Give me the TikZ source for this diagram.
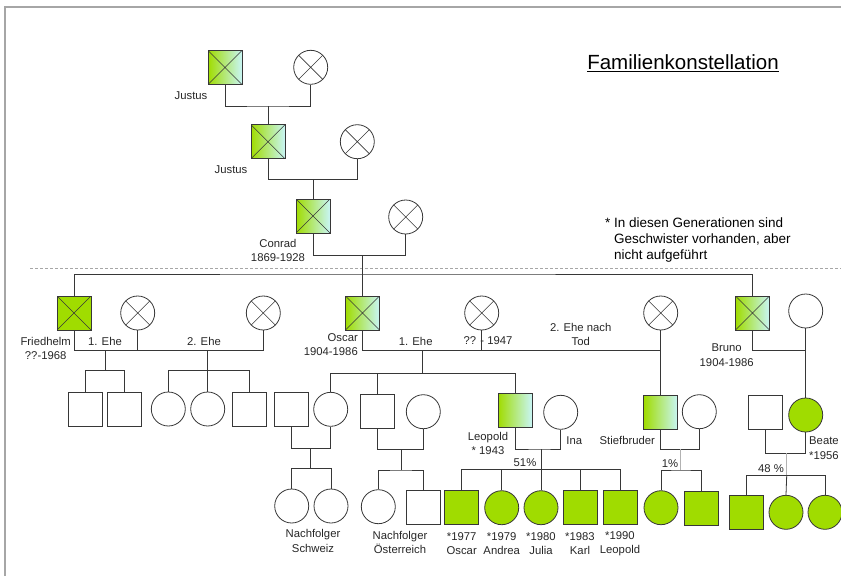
\documentclass[tikz,border=0pt]{standalone}
\usepackage{fontspec}
\setmainfont{Liberation Sans}
\definecolor{heirgreen}{RGB}{160,220,0}
\definecolor{palecyan}{RGB}{200,245,245}
\definecolor{linegray}{RGB}{55,55,55}
\tikzset{
  person/.style={draw=linegray, line width=0.8pt, inner sep=0pt, minimum size=34pt},
  man/.style={person, rectangle},
  woman/.style={person, circle},
  heir/.style={fill=heirgreen},
  partheir/.style={left color=heirgreen, right color=palecyan},
  dead/.style={path picture={
      \draw[linegray, line width=0.6pt]
        (path picture bounding box.south west) -- (path picture bounding box.north east)
        (path picture bounding box.north west) -- (path picture bounding box.south east);}},
  lbl/.style={font=\fontsize{11.3}{14.5}\selectfont, align=center, inner sep=0pt, text=black!85},
  tie/.style={draw=linegray, line width=0.8pt},
  faint/.style={draw=gray!60, line width=0.8pt},
}
\begin{document}
\begin{tikzpicture}[x=1pt, y=-1pt]
  \useasboundingbox (0,0) rectangle (841,576);
  % frame
  \draw[gray!70, line width=1.5pt] (5,576) -- (5,7) -- (841,7);

  \node[font=\fontsize{20.5}{24}\selectfont, inner sep=0pt] (title) at (683,63) {\underline{Familienkonstellation}};
  \node[font=\fontsize{13.5}{16}\selectfont, align=left, anchor=west, inner sep=0pt] (note) at (605,240)
    {* In diesen Generationen sind\\\hphantom{* }Geschwister vorhanden, aber\\\hphantom{* }nicht aufgeführt};

  % ancestors
  \node[man, partheir, dead] (justusA) at (225,67.5) {};
  \node[woman, dead] (wifeA) at (310.7,67.3) {};
  \node[lbl] (justusAtxt) at (191,96) {Justus};
  \node[man, partheir, dead] (justusB) at (268,141.7) {};
  \node[woman, dead] (wifeB) at (357.3,141.7) {};
  \node[lbl] (justusBtxt) at (231,170) {Justus};
  \node[man, partheir, dead] (conrad) at (313,216) {};
  \node[woman, dead] (wifeC) at (405.7,217) {};
  \node[lbl] (conradtxt) at (278,250.5) {Conrad\\1869-1928};

  \coordinate (mA) at (268,106);
  \coordinate (mB) at (313,179.3);
  \coordinate (mC) at (362.5,255.7);
  \draw[tie] (justusA.south) |- (mA) -| (wifeA.south);
  \draw[tie] (mA) -- (justusB.north);
  \draw[tie] (justusB.south) |- (mB) -| (wifeB.south);
  \draw[tie] (mB) -- (conrad.north);
  \draw[tie] (conrad.south) |- (mC) -| (wifeC.south);

  \draw[gray!70, dash pattern=on 3pt off 2pt] (30,268) -- (841,268);

  % sons of Conrad
  \node[man, heir, dead] (friedhelm) at (74,313) {};
  \node[woman, dead] (wifeF1) at (137.7,313) {};
  \node[woman, dead] (wifeF2) at (263.3,313) {};
  \node[man, partheir, dead] (oscar) at (362.5,313) {};
  \node[woman, dead] (wifeO1) at (481.7,313) {};
  \node[woman, dead] (wifeO2) at (660.7,313) {};
  \node[man, partheir, dead] (bruno) at (752.5,313) {};
  \node[woman] (wifeBr) at (805.7,311) {};

  \node[lbl] (friedhelmtxt) at (45.7,348.5) {Friedhelm\\??-1968};
  \node[lbl, align=right, anchor=east] (oscartxt) at (358,344.7) {Oscar\\1904-1986};
  \node[lbl] (brunotxt) at (726.7,355) {Bruno\\1904-1986};
  \node[lbl] (eheF1) at (105,341) {1. Ehe};
  \node[lbl] (eheF2) at (204,341) {2. Ehe};
  \node[lbl] (eheO1) at (415.7,341) {1. Ehe};
  \node[lbl] (wifeO1txt) at (488,341) {?? - 1947};
  \node[lbl] (eheO2) at (580.7,334.7) {2. Ehe nach\\Tod};

  \coordinate (sibs) at (362.5,274);
  \draw[tie] (mC) -- (oscar.north);
  \draw[tie] (friedhelm.north) |- (sibs) -| (bruno.north);

  % Friedhelm
  \coordinate (fe1) at (105,350.7);
  \coordinate (fe2) at (207.7,350.7);
  \coordinate (fk1) at (105,370.7);
  \coordinate (fk2) at (207.7,370.7);
  \draw[tie] (friedhelm.south) |- (fe1) -- (fe2) -| (wifeF2.south);
  \draw[tie] (wifeF1.south) -- (wifeF1.south |- fe1);
  \node[man] (fA) at (85,409) {};
  \node[man] (fB) at (124.5,409) {};
  \node[woman] (fC) at (168.3,409) {};
  \node[woman] (fD) at (207.7,409) {};
  \node[man] (fE) at (249,409) {};
  \draw[tie] (fe1) -- (fk1);
  \draw[tie] (fA.north) |- (fk1) -| (fB.north);
  \draw[tie] (fe2) -- (fk2) -- (fD.north);
  \draw[tie] (fC.north) |- (fk2) -| (fE.north);

  % Oscar
  \coordinate (oe1) at (422.3,350.7);
  \coordinate (oe2) at (660.7,350.7);
  \coordinate (ok1) at (422.3,373.3);
  \draw[tie] (oscar.south) |- (oe2);
  \draw[tie] (wifeO1.south) -- (wifeO1.south |- oe1);
  \draw[tie] (oe1) -- (ok1);

  \node[man] (husbD) at (291.7,409) {};
  \node[woman] (daughter) at (330.7,409.3) {};
  \node[man] (son) at (377.7,411) {};
  \node[woman] (wifeS) at (423.3,411.7) {};
  \node[man, partheir] (leopold) at (515,410) {};
  \node[woman] (ina) at (560.7,412.3) {};
  \node[man, partheir] (stief) at (660.7,412.3) {};
  \node[woman] (wifeSt) at (699.3,411.7) {};
  \node[man] (husbBe) at (765,412) {};
  \node[woman, heir] (beate) at (805.7,415) {};

  \draw[tie] (daughter.north) |- (ok1) -| (leopold.north);
  \draw[tie] (son.north) -- (son.north |- ok1);
  \draw[tie] (wifeO2.south) -- (stief.north);
  \coordinate (bm) at (805.7,350.7);
  \draw[tie] (bruno.south) |- (bm);
  \draw[tie] (wifeBr.south) -- (beate.north);

  \node[lbl] (leopoldtxt) at (488,443.3) {Leopold\\* 1943};
  \node[lbl] (inatxt) at (574.3,440.7) {Ina};
  \node[lbl] (stieftxt) at (627.3,440) {Stiefbruder};
  \node[lbl, align=left, anchor=west] (beatetxt) at (809,448) {Beate\\*1956};

  % grandchildren
  \coordinate (dm) at (310.7,448.3);
  \coordinate (dk) at (310.7,468.3);
  \draw[tie] (husbD.south) |- (dm) -| (daughter.south);
  \draw[tie] (dm) -- (dk);
  \node[woman] (gA) at (291.7,506) {};
  \node[woman] (gB) at (331,506) {};
  \draw[tie] (gA.north) |- (dk) -| (gB.north);
  \node[lbl] (gABtxt) at (313,541) {Nachfolger\\Schweiz};

  \coordinate (sm) at (401,449.3);
  \coordinate (sk) at (401,470);
  \draw[tie] (son.south) |- (sm) -| (wifeS.south);
  \draw[tie] (sm) -- (sk);
  \node[woman] (gC) at (378.3,506.7) {};
  \node[man] (gD) at (423,507) {};
  \draw[tie] (gC.north) |- (sk) -| (gD.north);
  \node[lbl] (gCDtxt) at (400,542.5) {Nachfolger\\Österreich};

  \coordinate (lm) at (541,449);
  \coordinate (lk) at (541,469.3);
  \draw[tie] (leopold.south) |- (lm) -| (ina.south);
  \draw[tie] (lm) -- (lk);
  \node[lbl] (share51) at (525,462.3) {51\%};
  \foreach \name/\x/\shp/\yr/\first in {kidA/461.7/rectangle/1977/Oscar, kidB/501.7/circle/1979/Andrea,
      kidC/541/circle/1980/Julia, kidD/580/rectangle/1983/Karl, kidE/620/rectangle/1990/Leopold}{
    \node[person, shape=\shp, heir] (\name) at (\x,507.7) {};
    \node[lbl] (\name txt) at (\x,543.5) {*\yr\\\first};
    \draw[tie] (\name.north) -- (\name.north |- lk);
  }
  \draw[tie] (kidA.north |- lk) -- (kidE.north |- lk);

  \coordinate (stm) at (680.7,449.3);
  \coordinate (stk) at (680.7,470);
  \draw[tie] (stief.south) |- (stm) -| (wifeSt.south);
  \draw[faint] (stm) -- (stk);
  \node[lbl] (share1) at (670,463.3) {1\%};
  \node[woman, heir] (gE) at (661,507.7) {};
  \node[man, heir] (gF) at (701,508.7) {};
  \draw[tie] (gE.north) |- (stk) -| (gF.north);

  \coordinate (bem) at (786.7,453.3);
  \coordinate (bek) at (786.7,475.7);
  \draw[tie] (husbBe.south) |- (bem) -| (beate.south);
  \draw[faint] (bem) -- (bek);
  \node[lbl] (share48) at (771,468.3) {48 \%};
  \node[man, heir] (gG) at (746.3,512.8) {};
  \node[woman, heir] (gH) at (786,512.3) {};
  \node[woman, heir] (gI) at (825,512.3) {};
  \draw[tie] (gG.north) |- (bek) -| (gI.north);
  \draw[tie] (bek) -- (gH.north);
\end{tikzpicture}
\end{document}
